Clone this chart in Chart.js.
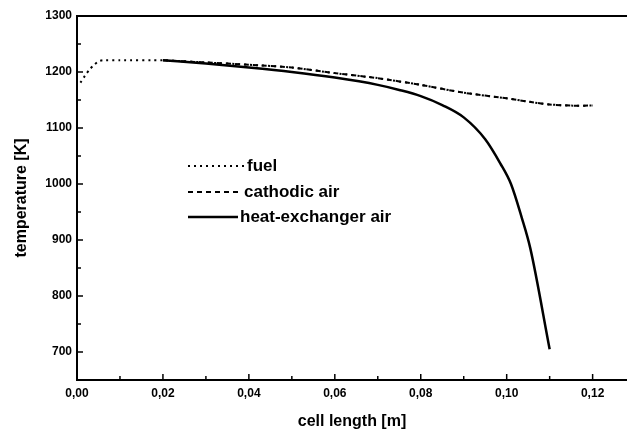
<!DOCTYPE html>
<html>
<head>
<meta charset="utf-8">
<script src="https://cdn.jsdelivr.net/npm/chart.js@4/dist/chart.umd.min.js"></script>
<style>
  html, body { margin: 0; padding: 0; background: #fff; }
  #wrap { width: 627px; height: 436px; position: relative; }
</style>
</head>
<body>
<div id="wrap"><canvas id="grafico" width="627" height="436"></canvas></div>
<script>
// Datos (longitud de celda en m, temperatura en K)
const fuelX = [0.0008, 0.002, 0.003, 0.004, 0.005, 0.006, 0.01, 0.02, 0.03, 0.04, 0.05, 0.06, 0.07, 0.08, 0.09, 0.10, 0.106, 0.11, 0.115, 0.12];
const fuelY = [1181, 1195, 1205, 1213, 1219, 1221, 1221, 1221, 1217, 1213, 1208, 1198, 1189, 1177, 1163, 1153, 1146, 1142, 1140, 1140];

const cathodicX = [0.02, 0.03, 0.04, 0.05, 0.06, 0.07, 0.08, 0.09, 0.10, 0.106, 0.11, 0.115, 0.12];
const cathodicY = [1221, 1217, 1213, 1208, 1198, 1189, 1177, 1163, 1153, 1146, 1142, 1140, 1140];

const heatX = [0.02, 0.03, 0.04, 0.05, 0.06, 0.07, 0.075, 0.08, 0.085, 0.09, 0.095, 0.0985, 0.101, 0.1035, 0.1055, 0.11];
const heatY = [1221, 1215, 1208, 1200, 1190, 1177, 1168, 1157, 1141, 1119, 1080, 1037, 1000, 940, 885, 705];

const etiquetas = ['fuel', 'cathodic air', 'heat-exchanger air'];

// Marcas de los ejes
const xTicks = [0, 0.02, 0.04, 0.06, 0.08, 0.10, 0.12];
const xMinor = [0.01, 0.03, 0.05, 0.07, 0.09, 0.11];
const yTicks = [700, 800, 900, 1000, 1100, 1200, 1300];
const yMinor = [650, 750, 850, 950, 1050, 1150, 1250];

const toPts = (xs, ys) => xs.map((x, i) => ({x: x, y: ys[i]}));

Chart.defaults.font.family = '"Liberation Sans", Arial, sans-serif';
Chart.defaults.font.weight = 'bold';
Chart.defaults.color = '#000';

// Marcas hacia adentro, borde superior y leyenda interna
const marcasPlugin = {
  id: 'marcas',
  afterDraw(chart) {
    const {ctx, chartArea, scales} = chart;
    const sx = scales.x, sy = scales.y;
    ctx.save();
    ctx.strokeStyle = '#000';
    ctx.lineWidth = 2;
    ctx.beginPath();
    ctx.moveTo(chartArea.left, chartArea.top);
    ctx.lineTo(chartArea.right, chartArea.top);
    ctx.stroke();

    ctx.lineWidth = 1.5;
    const tickX = (v, len) => {
      const px = sx.getPixelForValue(v);
      ctx.beginPath();
      ctx.moveTo(px, chartArea.bottom);
      ctx.lineTo(px, chartArea.bottom - len);
      ctx.stroke();
    };
    const tickY = (v, len) => {
      const py = sy.getPixelForValue(v);
      ctx.beginPath();
      ctx.moveTo(chartArea.left, py);
      ctx.lineTo(chartArea.left + len, py);
      ctx.stroke();
    };
    xTicks.forEach(v => tickX(v, 6));
    xMinor.forEach(v => tickX(v, 4));
    yTicks.forEach(v => tickY(v, 6));
    yMinor.forEach(v => tickY(v, 4));

    // leyenda
    const filas = [{y: 166, x2: 245}, {y: 192, x2: 242}, {y: 217, x2: 238}];
    chart.data.datasets.forEach((ds, i) => {
      const f = filas[i];
      ctx.strokeStyle = ds.borderColor;
      ctx.lineWidth = ds.borderWidth;
      ctx.setLineDash(ds.borderDash || []);
      ctx.beginPath();
      ctx.moveTo(188, f.y);
      ctx.lineTo(f.x2, f.y);
      ctx.stroke();
      ctx.setLineDash([]);
      ctx.fillStyle = '#000';
      ctx.font = 'bold 17px "Liberation Sans", Arial, sans-serif';
      ctx.textBaseline = 'middle';
      ctx.fillText(ds.label, f.x2 + 2, f.y);
    });
    ctx.restore();
  }
};

const ctx = document.getElementById('grafico').getContext('2d');
new Chart(ctx, {
  type: 'line',
  data: {
    datasets: [
      {
        label: etiquetas[0],
        data: toPts(fuelX, fuelY),
        borderColor: '#000',
        borderWidth: 2,
        borderDash: [2, 4],
        pointRadius: 0,
        tension: 0.2
      },
      {
        label: etiquetas[1],
        data: toPts(cathodicX, cathodicY),
        borderColor: '#000',
        borderWidth: 2,
        borderDash: [5, 4],
        pointRadius: 0,
        tension: 0.2
      },
      {
        label: etiquetas[2],
        data: toPts(heatX, heatY),
        borderColor: '#000',
        borderWidth: 2.5,
        pointRadius: 0,
        cubicInterpolationMode: 'monotone'
      }
    ]
  },
  options: {
    responsive: false,
    animation: false,
    layout: { padding: { top: 16, right: 0, left: 0, bottom: 0 } },
    scales: {
      x: {
        type: 'linear',
        min: 0,
        max: 0.128,
        afterBuildTicks: s => { s.ticks = xTicks.map(v => ({value: v})); },
        afterFit: s => { s.height = 56; },
        grid: { display: false, drawTicks: false },
        border: { display: true, color: '#000', width: 2 },
        ticks: {
          padding: 6,
          autoSkip: false,
          font: { size: 12, weight: 'bold' },
          maxRotation: 0,
          callback: v => v.toFixed(2).replace('.', ',')
        },
        title: {
          display: true,
          text: 'cell length [m]',
          font: { size: 16, weight: 'bold' },
          padding: { top: 0, bottom: 5 }
        }
      },
      y: {
        min: 650,
        max: 1300,
        afterBuildTicks: s => { s.ticks = yTicks.map(v => ({value: v})); },
        afterFit: s => { s.width = 77; },
        grid: { display: false, drawTicks: false },
        border: { display: true, color: '#000', width: 2 },
        ticks: {
          padding: 5,
          autoSkip: false,
          font: { size: 12, weight: 'bold' },
          callback: v => String(v)
        },
        title: {
          display: true,
          text: 'temperature [K]',
          font: { size: 16, weight: 'bold' },
          padding: { top: 12, bottom: 0 }
        }
      }
    },
    plugins: {
      legend: { display: false },
      tooltip: { enabled: false }
    }
  },
  plugins: [marcasPlugin]
});
</script>
</body>
</html>
